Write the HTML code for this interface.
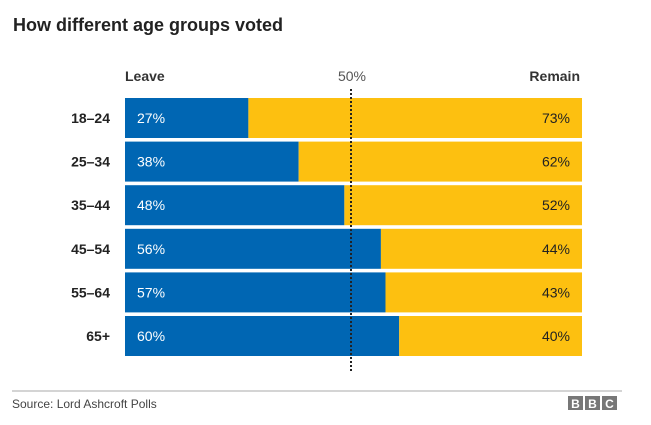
<!DOCTYPE html>
<html><head><meta charset="utf-8"><style>
body{margin:0;background:#fff;font-family:"Liberation Sans",Arial,sans-serif;}
#root{position:relative;width:651px;height:425px;overflow:hidden;}
</style></head><body>
<div id="root">
<svg id="chart" width="651" height="425">
<text x="13" y="31" font-size="18" font-weight="bold" fill="#222">How different age groups voted</text>
<text x="125" y="81" font-size="14" font-weight="bold" fill="#333">Leave</text>
<text x="580" y="81" font-size="14" font-weight="bold" fill="#333" text-anchor="end">Remain</text>
<text x="352" y="81" font-size="14" fill="#555" text-anchor="middle">50%</text>
<g id="bars"></g>
<line x1="351" y1="89" x2="351" y2="372" stroke="#222" stroke-width="2" stroke-dasharray="2,2"/>
<line x1="12" y1="391" x2="622" y2="391" stroke="#aaa" stroke-width="1"/>
<text x="12" y="408" font-size="12" fill="#444">Source: Lord Ashcroft Polls</text>
<g>
<rect x="568" y="396" width="15" height="14" fill="#777"/><rect x="585" y="396" width="15" height="14" fill="#777"/><rect x="602" y="396" width="15" height="14" fill="#777"/>
<text x="575.5" y="408" font-size="12" font-weight="bold" fill="#fff" text-anchor="middle">B</text>
<text x="592.5" y="408" font-size="12" font-weight="bold" fill="#fff" text-anchor="middle">B</text>
<text x="609.5" y="408" font-size="12" font-weight="bold" fill="#fff" text-anchor="middle">C</text>
</g>
</svg>
</div>
<script>
const categories=["18–24","25–34","35–44","45–54","55–64","65+"];
const leaveValues=[27,38,48,56,57,60];
const remainValues=[73,62,52,44,43,40];
const x0=125,x1=582,top0=98,rowStep=43.6,barH=40;
const xs=v=>x0+(x1-x0)*v/100;
const ys=i=>top0+i*rowStep;
const g=document.getElementById('bars');
const NS="http://www.w3.org/2000/svg";
function mk(tag,attrs){const e=document.createElementNS(NS,tag);for(const k in attrs)e.setAttribute(k,attrs[k]);return e;}
categories.forEach((c,i)=>{
  const y=ys(i);
  const lw=xs(leaveValues[i])-x0;
  const lb=mk('rect',{x:x0,y:y,width:lw,height:barH,fill:'#0066b3'});
  
  
  g.appendChild(lb);
  const rb=mk('rect',{x:x0+lw,y:y,width:(x1-x0)*remainValues[i]/100,height:barH,fill:'#fdc010'});
  
  
  g.appendChild(rb);
  const cl=mk('text',{x:110,y:y+25,'font-size':14,'font-weight':'bold',fill:'#222','text-anchor':'end'});
  cl.textContent=c;
  
  
  g.appendChild(cl);
  const lt=mk('text',{x:x0+12,y:y+25,'font-size':14,fill:'#fff'});
  lt.textContent=leaveValues[i]+'%';
  
  
  g.appendChild(lt);
  const rt=mk('text',{x:x1-12,y:y+25,'font-size':14,fill:'#222','text-anchor':'end'});
  rt.textContent=remainValues[i]+'%';
  
  
  g.appendChild(rt);
});
</script>
</body></html>
